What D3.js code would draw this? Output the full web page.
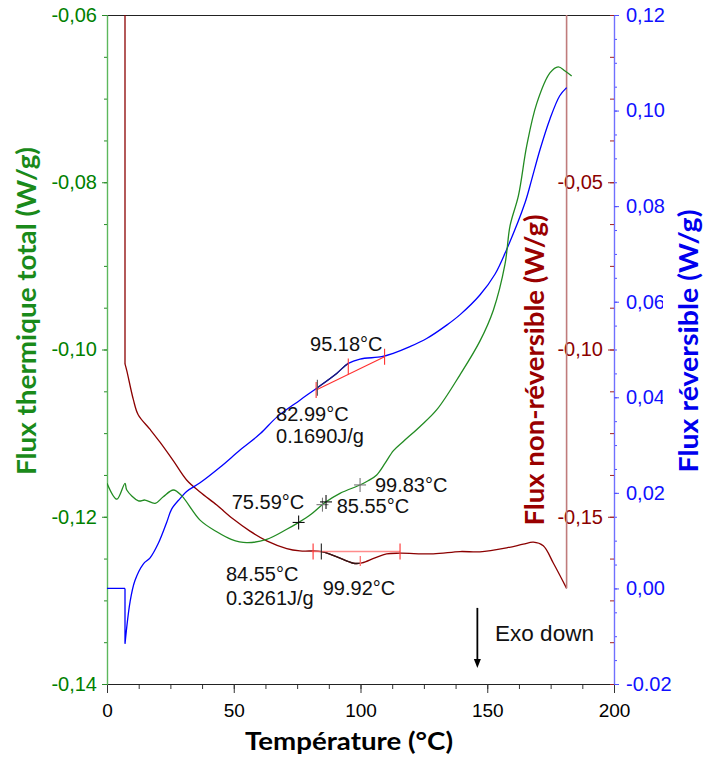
<!DOCTYPE html>
<html><head><meta charset="utf-8">
<script src="https://cdn.jsdelivr.net/npm/d3@7"></script>
<style>body{margin:0;background:#fff}svg{display:block}</style>
</head><body>
<svg id="chart" width="705" height="766"></svg>
<script>
// ---------- DATA ----------
// Flux thermique total (left axis, W/g)
const totalT    = [0, 3.9, 7.1, 7.8, 12.4, 15.0, 19.0, 22.2, 26.2, 29.5, 36.7, 43.3, 49.0, 55.1, 63.0, 70.9, 75.5, 80.5, 86.0, 91.9, 99.8, 103.0, 106.4, 109.7, 113.0, 116.9, 123.5, 130.1, 139.3, 147.1, 152.4, 157.0, 159.0, 162.3, 165.6, 169.5, 174.8, 178.0, 180.7, 183.3];
const totalFlux = [-0.1160, -0.1179, -0.1160, -0.1168, -0.1181, -0.1180, -0.1184, -0.1176, -0.1168, -0.1175, -0.1204, -0.1218, -0.1227, -0.1231, -0.1227, -0.1215, -0.1207, -0.1197, -0.1183, -0.1172, -0.1162, -0.1157, -0.1150, -0.1136, -0.1121, -0.1110, -0.1092, -0.1072, -0.1030, -0.0990, -0.0953, -0.0898, -0.0852, -0.0816, -0.0756, -0.0706, -0.0669, -0.0662, -0.0667, -0.0673];
// Flux réversible (right blue axis, W/g)
const revT    = [0, 7.1, 7.1, 9.1, 11.0, 14.3, 17.0, 20.3, 23.6, 25.5, 28.8, 31.4, 36.7, 44.7, 52.6, 60.5, 67.1, 76.1, 82.7, 90.6, 95.2, 99.8, 108.4, 112.9, 119.5, 126.1, 134.0, 139.3, 147.1, 153.1, 157.7, 164.9, 167.5, 170.8, 174.7, 178.6, 181.3];
const revFlux = [0.0, 0.0, -0.0116, -0.0028, 0.0016, 0.0051, 0.0064, 0.0095, 0.0139, 0.0166, 0.0188, 0.0203, 0.0221, 0.0254, 0.0290, 0.0324, 0.0359, 0.0394, 0.0419, 0.0450, 0.0471, 0.0480, 0.0485, 0.0492, 0.0506, 0.0523, 0.0551, 0.0573, 0.0614, 0.0658, 0.0710, 0.0807, 0.0855, 0.0918, 0.0982, 0.1031, 0.1048];
// Flux non-réversible (right red axis, W/g) – starts and ends off-scale
const nonRevT    = [7.1, 7.1, 7.8, 10.4, 12.3, 17.0, 20.9, 26.2, 31.4, 36.7, 43.3, 49.8, 56.4, 63.0, 70.9, 76.1, 84.7, 90.7, 97.2, 100.6, 105.7, 110.3, 115.6, 128.7, 139.3, 147.1, 157.7, 164.2, 168.2, 172.1, 176.1, 181.3, 181.3];
const nonRevFlux = [0.02, -0.1043, -0.1063, -0.1150, -0.1195, -0.1239, -0.1277, -0.1333, -0.1390, -0.1426, -0.1465, -0.1507, -0.1543, -0.1572, -0.1595, -0.1602, -0.1604, -0.1620, -0.1639, -0.1638, -0.1623, -0.1611, -0.1609, -0.1611, -0.1604, -0.1605, -0.1593, -0.1582, -0.1576, -0.1587, -0.1639, -0.1714, 0.02];

// Tick labels
const xTickValues = [0, 50, 100, 150, 200];
const totalTickValues = [-0.14, -0.12, -0.10, -0.08, -0.06];
const totalTickLabels = ["-0,14", "-0,12", "-0,10", "-0,08", "-0,06"];
const revTickValues = [-0.02, 0.00, 0.02, 0.04, 0.06, 0.08, 0.10, 0.12];
const revTickLabels = ["-0.02", "0,00", "0,02", "0,04", "0,06", "0,08", "0,10", "0,12"];
const nonRevTickValues = [-0.15, -0.10, -0.05];
const nonRevTickLabels = ["-0,15", "-0,10", "-0,05"];

// Analysis results (glass transitions)
const revBaselineT = [82.5, 109.5];
const revBaselineV = [0.0415, 0.0485];
const revTickT = [82.5, 95.18, 109.5];
const revOnsetT = 82.99;
const totalMarkT = [75.59, 85.0, 86.4, 99.83];
const totalMarkGrey = [false, true, false, true];
const nonRevBaselineT = [80.8, 115.6];
const nonRevBaselineV = [-0.1604, -0.1604];
const nonRevTickT = [81.3, 115.6];
const nonRevOnsetT = 84.55;
const nonRevPeakT = 99.92;

const annotTexts   = ["95.18°C", "82.99°C", "0.1690J/g", "75.59°C", "85.55°C", "99.83°C", "84.55°C", "0.3261J/g", "99.92°C"];
const annotT       = [80.1, 66.7, 66.7, 49.2, 90.6, 105.7, 46.9, 46.9, 85.1];
const annotV       = [0.0497, 0.0351, 0.0305, -0.1191, -0.11955, -0.1171, -0.1692, -0.1764, -0.1734];
const annotAxis    = ["rev", "rev", "rev", "total", "total", "total", "nonrev", "nonrev", "nonrev"];

// ---------- CHART ----------
const svg = d3.select("#chart");
const L = 107, R = 614, T = 15, B = 684;
const x = d3.scaleLinear().domain([0, 200]).range([L, R]);
const yTotal = d3.scaleLinear().domain([-0.14, -0.06]).range([B, T]);
const yRev = d3.scaleLinear().domain([-0.02, 0.12]).range([B, T]);
const yNonRev = d3.scaleLinear().domain([-0.2, 0]).range([B, T]);
const yOf = {total: yTotal, rev: yRev, nonrev: yNonRev};

const cGreen = "#228b22", cBlue = "#0000ff", cRed = "#8b0000";
const numFont = "'Liberation Sans', Arial, sans-serif";
const titleFont = "Lato, 'Open Sans', sans-serif";

const defs = svg.append("defs");
defs.append("clipPath").attr("id", "plotClip")
  .append("rect").attr("x", L).attr("y", T).attr("width", R - L).attr("height", B - T);

// top border
svg.append("line").attr("x1", L).attr("x2", R).attr("y1", T + 0.5).attr("y2", T + 0.5)
  .attr("stroke", "#222").attr("stroke-width", 1);

function styleAxis(g, lineColor, tickColor, textColor, fs) {
  g.select(".domain").attr("stroke", lineColor).attr("stroke-width", 1.2);
  g.selectAll(".tick line").attr("stroke", tickColor);
  g.selectAll(".tick text").attr("fill", textColor).attr("font-family", numFont).attr("font-size", fs);
}

// X axis
const gxMinor = svg.append("g").attr("transform", `translate(0,${B})`)
  .call(d3.axisBottom(x).tickValues(d3.range(0, 200.01, 12.5)).tickSize(5).tickSizeOuter(0).tickFormat(""));
styleAxis(gxMinor, "#222", "#333", "#000", 19);
const gx = svg.append("g").attr("transform", `translate(0,${B})`)
  .call(d3.axisBottom(x).tickValues(xTickValues).tickSize(9).tickSizeOuter(0).tickPadding(11).tickFormat(d3.format("d")));
styleAxis(gx, "#222", "#333", "#000", 19);

// Left (total) axis
const gyMinor = svg.append("g").attr("transform", `translate(${L},0)`)
  .call(d3.axisLeft(yTotal).tickValues(d3.range(-0.14, -0.0599, 0.005)).tickSize(3).tickSizeOuter(0).tickFormat(""));
styleAxis(gyMinor, "#5cb85c", "#2a8a2a", "#008000", 20);
const gy = svg.append("g").attr("transform", `translate(${L},0)`)
  .call(d3.axisLeft(yTotal).tickValues(totalTickValues).tickSize(5).tickSizeOuter(0).tickPadding(5)
    .tickFormat((d, i) => totalTickLabels[i]));
styleAxis(gy, "#5cb85c", "#2a8a2a", "#008000", 20);

// Right blue (reversible) axis
const gbMinor = svg.append("g").attr("transform", `translate(${R},0)`)
  .call(d3.axisRight(yRev).tickValues(d3.range(-0.02, 0.1201, 0.005)).tickSize(3).tickSizeOuter(0).tickFormat(""));
styleAxis(gbMinor, "#7070ff", "#5050ff", cBlue, 20);
const gb = svg.append("g").attr("transform", `translate(${R},0)`)
  .call(d3.axisRight(yRev).tickValues(revTickValues).tickSize(5).tickSizeOuter(0).tickPadding(7)
    .tickFormat((d, i) => revTickLabels[i]));
styleAxis(gb, "#7070ff", "#5050ff", "#1010ff", 20);

// Red (non-reversible) axis, drawn inside at the right edge
const grMinor = svg.append("g").attr("transform", `translate(${R},0)`)
  .call(d3.axisLeft(yNonRev).tickValues(d3.range(-0.2, 0.0001, 0.0125)).tickSize(4).tickSizeOuter(0).tickFormat(""));
grMinor.select(".domain").remove();
grMinor.selectAll(".tick line").attr("stroke", "#a02020");
const gr = svg.append("g").attr("transform", `translate(${R},0)`)
  .call(d3.axisLeft(yNonRev).tickValues(nonRevTickValues).tickSize(6).tickSizeOuter(0).tickPadding(5)
    .tickFormat((d, i) => nonRevTickLabels[i]));
gr.select(".domain").remove();
gr.selectAll(".tick line").attr("stroke", "#a02020");
gr.selectAll(".tick text").attr("fill", "#8b0000").attr("font-family", numFont).attr("font-size", 20);

// ---------- CURVES ----------
// split a series into smooth runs and straight vertical jumps (equal temperatures)
function pieces(ts, vs) {
  const pts = d3.zip(ts, vs);
  const out = [];
  let cur = [pts[0]];
  for (let i = 1; i < pts.length; i++) {
    if (pts[i][0] === pts[i - 1][0]) {
      if (cur.length > 1) out.push({pts: cur, smooth: true});
      out.push({pts: [pts[i - 1], pts[i]], smooth: false, last: i === pts.length - 1});
      cur = [pts[i]];
    } else cur.push(pts[i]);
  }
  if (cur.length > 1) out.push({pts: cur, smooth: true});
  return out;
}
function pathD(ts, vs, ys) {
  return pieces(ts, vs).map(p => d3.line().x(d => x(d[0])).y(d => ys(d[1]))
    .curve(p.smooth ? d3.curveCatmullRom.alpha(0.5) : d3.curveLinear)(p.pts)).join("");
}
const plot = svg.append("g").attr("clip-path", "url(#plotClip)");
pieces(nonRevT, nonRevFlux).forEach(p => {
  plot.append("path")
    .attr("d", d3.line().x(d => x(d[0])).y(d => yNonRev(d[1]))
      .curve(p.smooth ? d3.curveCatmullRom.alpha(0.5) : d3.curveLinear)(p.pts))
    .attr("fill", "none").attr("stroke", p.last ? "#c07c7c" : cRed).attr("stroke-width", p.last ? 1.6 : 1.3);
});
plot.append("path").attr("d", pathD(revT, revFlux, yRev)).attr("fill", "none").attr("stroke", cBlue).attr("stroke-width", 1.3);
plot.append("path").attr("d", pathD(totalT, totalFlux, yTotal)).attr("fill", "none").attr("stroke", cGreen).attr("stroke-width", 1.3);

// integrated regions drawn darker
defs.append("clipPath").attr("id", "revSeg").append("rect")
  .attr("x", x(revOnsetT)).attr("y", T).attr("width", x(95.18) - x(revOnsetT)).attr("height", B - T);
defs.append("clipPath").attr("id", "nonRevSeg").append("rect")
  .attr("x", x(nonRevOnsetT)).attr("y", T).attr("width", x(nonRevPeakT) - x(nonRevOnsetT)).attr("height", B - T);
svg.append("path").attr("clip-path", "url(#revSeg)").attr("d", pathD(revT, revFlux, yRev))
  .attr("fill", "none").attr("stroke", "#202070").attr("stroke-width", 1.3);
svg.append("path").attr("clip-path", "url(#nonRevSeg)").attr("d", pathD(nonRevT, nonRevFlux, yNonRev))
  .attr("fill", "none").attr("stroke", "#301818").attr("stroke-width", 1.3);

// ---------- ANNOTATION MARKS ----------
function interp(ts, vs, t) {
  const i = d3.bisectLeft(ts, t);
  if (i <= 0) return vs[0];
  if (i >= ts.length) return vs[vs.length - 1];
  const f = (t - ts[i - 1]) / (ts[i] - ts[i - 1]);
  return vs[i - 1] + f * (vs[i] - vs[i - 1]);
}
const ann = svg.append("g");
// reversible baseline
ann.append("line").attr("x1", x(revBaselineT[0])).attr("x2", x(revBaselineT[1]))
  .attr("y1", yRev(revBaselineV[0])).attr("y2", yRev(revBaselineV[1])).attr("stroke", "#ff3030").attr("stroke-width", 1.1);
revTickT.forEach((t, i) => {
  const yy = yRev(interp(revBaselineT, revBaselineV, t));
  const shift = i === 1 ? -8 : 0;
  ann.append("line").attr("x1", x(t)).attr("x2", x(t)).attr("y1", yy - 8 + shift).attr("y2", yy + 8 + shift)
    .attr("stroke", "#ff3030").attr("stroke-width", 1.1);
});
{
  const yy = yRev(interp(revT, revFlux, revOnsetT));
  ann.append("line").attr("x1", x(revOnsetT)).attr("x2", x(revOnsetT)).attr("y1", yy - 8).attr("y2", yy + 8)
    .attr("stroke", "#555").attr("stroke-width", 1.1);
}
// non-reversible baseline
ann.append("line").attr("x1", x(nonRevBaselineT[0])).attr("x2", x(nonRevBaselineT[1]))
  .attr("y1", yNonRev(nonRevBaselineV[0])).attr("y2", yNonRev(nonRevBaselineV[1])).attr("stroke", "#ff7070")
  .attr("stroke-width", 1.6).attr("opacity", 0.8);
nonRevTickT.forEach(t => {
  const yy = yNonRev(interp(nonRevBaselineT, nonRevBaselineV, t));
  ann.append("line").attr("x1", x(t)).attr("x2", x(t)).attr("y1", yy - 8).attr("y2", yy + 8)
    .attr("stroke", "#ff3030").attr("stroke-width", 1.1);
});
{
  const yy = yNonRev(interp(nonRevBaselineT, nonRevBaselineV, nonRevOnsetT));
  ann.append("line").attr("x1", x(nonRevOnsetT)).attr("x2", x(nonRevOnsetT)).attr("y1", yy - 8).attr("y2", yy + 8)
    .attr("stroke", "#222").attr("stroke-width", 1.1);
  const yp = yNonRev(interp(nonRevT, nonRevFlux, nonRevPeakT));
  ann.append("line").attr("x1", x(nonRevPeakT)).attr("x2", x(nonRevPeakT)).attr("y1", yp - 7).attr("y2", yp + 3)
    .attr("stroke", "#ff7070").attr("stroke-width", 1.3);
}
// crosses on total curve
totalMarkT.forEach((t, i) => {
  const cx = x(t), cy = yTotal(interp(totalT, totalFlux, t));
  const col = totalMarkGrey[i] ? "#777" : "#111";
  ann.append("line").attr("x1", cx - 6).attr("x2", cx + 6).attr("y1", cy).attr("y2", cy).attr("stroke", col).attr("stroke-width", 1.1);
  ann.append("line").attr("x1", cx).attr("x2", cx).attr("y1", cy - 7).attr("y2", cy + 7).attr("stroke", col).attr("stroke-width", 1.1);
});

// annotation texts
annotTexts.forEach((s, i) => {
  svg.append("text").attr("x", x(annotT[i])).attr("y", yOf[annotAxis[i]](annotV[i]))
    .attr("font-family", numFont).attr("font-size", 20).attr("fill", "#111").text(s);
});

// Exo down arrow
const arrowT = 146.1;
const ay1 = yTotal(-0.1309), ay2 = yTotal(-0.1381);
svg.append("line").attr("x1", x(arrowT)).attr("x2", x(arrowT)).attr("y1", ay1).attr("y2", ay2 - 6)
  .attr("stroke", "#000").attr("stroke-width", 1.8);
svg.append("path").attr("d", `M${x(arrowT) - 3.5},${ay2 - 9} L${x(arrowT) + 3.5},${ay2 - 9} L${x(arrowT)},${ay2} Z`).attr("fill", "#000");
svg.append("text").attr("x", x(153.1)).attr("y", yTotal(-0.1349))
  .attr("font-family", numFont).attr("font-size", 22.5).attr("fill", "#111").text("Exo down");

// ---------- TITLES ----------
// white mask behind the blue title (clips the last digits of some labels, as in the original)
svg.append("rect").attr("x", 663).attr("y", 216).attr("width", 42).attr("height", 258).attr("fill", "#fff");

svg.append("text").attr("x", 349).attr("y", 750).attr("text-anchor", "middle")
  .attr("font-family", titleFont).attr("font-weight", "bold").attr("font-size", 25).attr("fill", "#000")
  .attr("textLength", 208).attr("lengthAdjust", "spacingAndGlyphs").text("Température (°C)");
svg.append("text").attr("transform", "translate(36,311) rotate(-90)").attr("text-anchor", "middle")
  .attr("font-family", titleFont).attr("font-weight", "bold").attr("font-size", 26).attr("fill", "#1a8a1a")
  .attr("textLength", 328).attr("lengthAdjust", "spacingAndGlyphs").text("Flux thermique total (W/g)");
svg.append("text").attr("transform", "translate(544,370) rotate(-90)").attr("text-anchor", "middle")
  .attr("font-family", titleFont).attr("font-weight", "bold").attr("font-size", 26).attr("fill", "#990000")
  .attr("textLength", 311).attr("lengthAdjust", "spacingAndGlyphs").text("Flux non-réversible (W/g)");
svg.append("text").attr("transform", "translate(698,341) rotate(-90)").attr("text-anchor", "middle")
  .attr("font-family", titleFont).attr("font-weight", "bold").attr("font-size", 26).attr("fill", "#0000ee")
  .attr("textLength", 263).attr("lengthAdjust", "spacingAndGlyphs").text("Flux réversible (W/g)");
</script>
</body></html>
